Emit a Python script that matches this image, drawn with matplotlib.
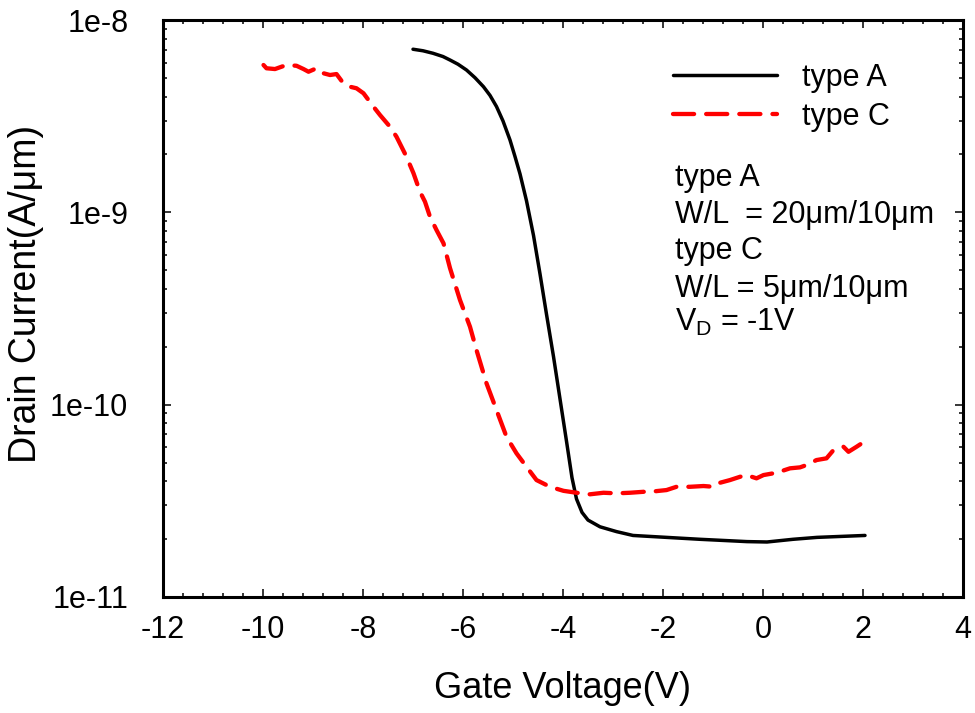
import numpy as np
import matplotlib
matplotlib.use("Agg")
import matplotlib.pyplot as plt
from matplotlib.ticker import FixedLocator, MultipleLocator, LogLocator, NullFormatter

plt.rcParams['font.family'] = ['Liberation Sans', 'DejaVu Sans']
plt.rcParams['mathtext.fontset'] = 'custom'
plt.rcParams['mathtext.rm'] = 'Liberation Sans'
plt.rcParams['mathtext.it'] = 'Liberation Sans:italic'

# Transfer curves: gate voltage (V) and log10 of drain current (A/um)
vg_type_a = [-7.00, -6.80, -6.60, -6.40, -6.26, -6.10, -5.93, -5.76, -5.59, -5.46,
             -5.33, -5.20, -5.06, -4.96, -4.86, -4.73, -4.59, -4.46, -4.33, -4.19,
             -4.06, -3.93, -3.82, -3.73, -3.62, -3.50, -3.26, -2.93, -2.60, -1.93,
             -1.26, -0.32, 0.08, 0.60, 1.08, 2.04]
log_id_type_a = [-8.152, -8.160, -8.173, -8.190, -8.208, -8.230, -8.260, -8.300, -8.347, -8.392,
                 -8.450, -8.525, -8.624, -8.710, -8.800, -8.940, -9.120, -9.320, -9.530, -9.750,
                 -9.970, -10.190, -10.380, -10.490, -10.560, -10.600, -10.635, -10.660, -10.680, -10.690,
                 -10.700, -10.712, -10.714, -10.700, -10.690, -10.680]

vg_type_c = [-9.99, -9.93, -9.76, -9.63, -9.53, -9.33, -9.19, -9.09, -8.93, -8.79,
             -8.66, -8.53, -8.39, -8.26, -8.13, -7.99, -7.79, -7.66, -7.46, -7.33,
             -7.13, -6.99, -6.86, -6.76, -6.66, -6.53, -6.39, -6.26, -6.06, -5.86,
             -5.73, -5.53, -5.33, -5.13, -4.93, -4.73, -4.53, -4.26, -3.99, -3.73,
             -3.46, -3.19, -2.93, -2.66, -2.39, -2.26, -1.93, -1.73, -1.46, -1.19,
             -0.99, -0.86, -0.66, -0.46, -0.33, -0.13, 0.01, 0.27, 0.54, 0.74,
             0.87, 1.07, 1.27, 1.41, 1.61, 1.71, 1.87, 2.01]
log_id_type_c = [-8.234, -8.251, -8.255, -8.243, -8.234, -8.238, -8.255, -8.269, -8.251, -8.277,
                 -8.286, -8.281, -8.330, -8.347, -8.355, -8.381, -8.451, -8.494, -8.555, -8.607,
                 -8.711, -8.797, -8.893, -8.945, -9.023, -9.092, -9.161, -9.290, -9.456, -9.595,
                 -9.716, -9.889, -10.028, -10.167, -10.253, -10.323, -10.392, -10.427, -10.448, -10.458,
                 -10.466, -10.458, -10.461, -10.458, -10.453, -10.453, -10.444, -10.427, -10.427, -10.423,
                 -10.427, -10.406, -10.392, -10.375, -10.366, -10.383, -10.366, -10.354, -10.331, -10.326,
                 -10.314, -10.288, -10.279, -10.236, -10.219, -10.245, -10.219, -10.195]

series_labels = ['type A', 'type C']
y_tick_values = [1e-11, 1e-10, 1e-9, 1e-8]
y_tick_labels = ['1e-11', '1e-10', '1e-9', '1e-8']
x_tick_values = [-12, -10, -8, -6, -4, -2, 0, 2, 4]
x_tick_labels = ['-12', '-10', '-8', '-6', '-4', '-2', '0', '2', '4']

notes = ['type A', 'W/L  = 20\u03bcm/10\u03bcm', 'type C',
         'W/L = 5\u03bcm/10\u03bcm', 'V$_{\\mathrm{D}}$ = -1V']

id_type_a = 10.0 ** np.array(log_id_type_a)
id_type_c = 10.0 ** np.array(log_id_type_c)

fig = plt.figure(figsize=(9.75, 7.13), dpi=100)
ax = fig.add_axes([163 / 975, 116 / 713, 800 / 975, 577 / 713])

ax.plot(vg_type_a, id_type_a, color='black', lw=2.5, solid_capstyle='round',
        solid_joinstyle='round', label=series_labels[0])
ax.plot(vg_type_c, id_type_c, color='#ff0000', lw=3.1, dashes=(4.9, 2.8),
        dash_capstyle='round', dash_joinstyle='round', label=series_labels[1])

ax.set_yscale('log')
ax.set_xlim(-12, 4)
ax.set_ylim(1e-11, 1e-8)

ax.xaxis.set_major_locator(FixedLocator(x_tick_values))
ax.set_xticklabels(x_tick_labels)
ax.xaxis.set_minor_locator(MultipleLocator(0.4))
ax.yaxis.set_major_locator(FixedLocator(y_tick_values))
ax.set_yticklabels(y_tick_labels)
ax.yaxis.set_minor_locator(LogLocator(base=10, subs=np.arange(2, 10)))
ax.yaxis.set_minor_formatter(NullFormatter())

ax.tick_params(which='both', direction='in', top=True, right=True, width=1.1,
               colors='black')
ax.tick_params(which='major', length=6, labelsize=22)
ax.tick_params(axis='x', which='major', pad=13)
ax.tick_params(axis='y', which='major', pad=25)
ax.tick_params(which='minor', length=3.2)
for s in ax.spines.values():
    s.set_linewidth(2.2)

ax.set_xlabel('Gate Voltage(V)', fontsize=26)
ax.set_ylabel('Drain Current(A/\u03bcm)', fontsize=27)
ax.xaxis.set_label_coords(0.5, (597 - 688) / 577)
ax.xaxis.label.set_va('center')
ax.yaxis.set_label_coords((26 - 163) / 800, (597 - 294) / 577)
ax.yaxis.label.set_va('center')

leg = ax.legend(loc='upper left', bbox_to_anchor=((673 - 163) / 800, (597 - 63) / 577),
                frameon=False, fontsize=22, handlelength=3.4, handletextpad=0.82,
                labelspacing=0.28, borderpad=0, borderaxespad=0)

note_baselines = [186, 223, 259, 297, 331]
for txt, yb in zip(notes, note_baselines):
    ax.text((675 - 163) / 800, (597 - yb) / 577, txt, transform=ax.transAxes,
            fontsize=22, ha='left', va='baseline')

fig.savefig('out.png', dpi=100)
